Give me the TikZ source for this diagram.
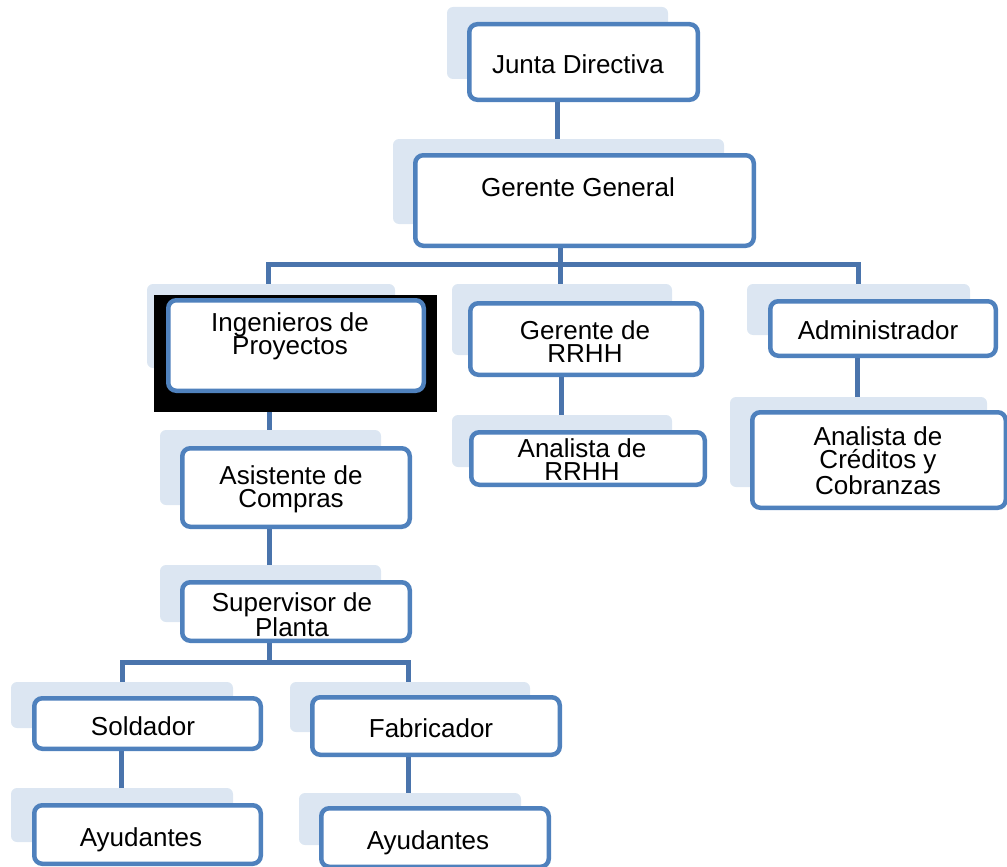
\documentclass[tikz,border=0pt]{standalone}
\usepackage{fontspec}
\setmainfont{Liberation Sans}
\usetikzlibrary{fit}
\pgfdeclarelayer{connlayer}
\pgfdeclarelayer{backlayer}
\pgfdeclarelayer{blklayer}
\pgfsetlayers{connlayer,backlayer,blklayer,main}
\definecolor{bordblue}{HTML}{4F81BD}
\definecolor{connblue}{HTML}{4A74AC}
\definecolor{backblue}{HTML}{DCE6F2}
\tikzset{
  frontbox/.style={draw=bordblue, line width=4.5pt, fill=white, rounded corners=8pt, inner sep=0pt},
  backbox/.style={fill=backblue, draw=none, rounded corners=6pt, inner sep=0pt},
  conn/.style={draw=connblue, line width=5pt},
  lbl/.style={font=\fontsize{26}{23.5}\selectfont, align=center, inner sep=0pt, anchor=base, text=black},
}
\newcommand\orgbox[9]{%
  \begin{pgfonlayer}{backlayer}\node[backbox, fit={(#6,#7) (#8,#9)}] (#1-b) {};\end{pgfonlayer}
  \node[frontbox, fit={(#2+2.25,#3+2.25) (#4-2.25,#5-2.25)}] (#1) {};}
\begin{document}
\begin{tikzpicture}[x=1pt,y=-1pt]
\useasboundingbox (0,0) rectangle (1007,867);
% boxes: name, front x1 y1 x2 y2, back x1 y1 x2 y2
\orgbox{jd}{467}{22}{700}{102}{447}{7}{668}{79}
\orgbox{gg}{413}{153}{756}{248}{393}{139}{724}{224}
\orgbox{ip}{166}{298}{426}{393}{147}{284}{395}{368}
\orgbox{rh}{468}{301}{704}{377}{452}{284}{672}{355}
\orgbox{ar}{469}{430}{707}{487}{452}{415}{672}{467}
\orgbox{ad}{768}{299}{998}{358}{747}{284}{970}{335}
\orgbox{ac}{750}{410}{1008}{510}{730}{397}{987}{487}
\orgbox{as}{180}{446}{412}{529}{160}{430}{381}{505}
\orgbox{sp}{180}{580}{412}{643}{160}{565}{381}{622}
\orgbox{so}{32}{696}{263}{751}{11}{682}{233}{728}
\orgbox{aa}{32}{803}{263}{866}{11}{788}{233}{842}
\orgbox{fa}{310}{695}{562}{757}{290}{682}{530}{732}
\orgbox{ab}{319}{806}{551}{869}{299}{793}{521}{845}
\begin{pgfonlayer}{blklayer}
  \node[fill=black, inner sep=0pt, fit={(154,295) (437,412)}] (blk) {};
\end{pgfonlayer}
% labels (base = baseline of the last line)
\node[lbl] (jd-t) at (578,74) {Junta Directiva};
\node[lbl] (gg-t) at (578,196) {Gerente General};
\node[lbl] (ip-t) at (290,354.5) {Ingenieros de\\Proyectos};
\node[lbl] (rh-t) at (585,362.5) {Gerente de\\RRHH};
\node[lbl] (ar-t) at (582,480.5) {Analista de\\RRHH};
\node[lbl] (ad-t) at (878,339) {Administrador};
\node[lbl] (ac-t) at (878,494) {Analista de\\Créditos y\\Cobranzas};
\node[lbl] (as-t) at (291,507.5) {Asistente de\\Compras};
\node[lbl] (sp-t) at (292,636.5) {Supervisor de\\Planta};
\node[lbl] (so-t) at (143,735) {Soldador};
\node[lbl] (aa-t) at (141,846) {Ayudantes};
\node[lbl] (fa-t) at (431,737) {Fabricador};
\node[lbl] (ab-t) at (428,849) {Ayudantes};
% connectors
\begin{pgfonlayer}{connlayer}
  \coordinate (bus1) at (560,264);
  \coordinate (bus2) at (269,662);
  \draw[conn] (557,0 |- jd.south) -- (557,0 |- gg.north);
  \draw[conn] (bus1 |- gg.south) -- (bus1);
  \draw[conn] (268,0 |- ip.north) |- (bus1) -| (858,0 |- ad.north);
  \draw[conn] (bus1) -- (bus1 |- rh.north);
  \draw[conn] (561,0 |- rh.south) -- (561,0 |- ar.north);
  \draw[conn] (857,0 |- ad.south) -- (857,0 |- ac.north);
  \draw[conn] (269,0 |- ip.south) -- (269,0 |- as.north);
  \draw[conn] (269,0 |- as.south) -- (269,0 |- sp.north);
  \draw[conn] (bus2 |- sp.south) -- (bus2);
  \draw[conn] (122,0 |- so.north) |- (bus2) -| (408,0 |- fa.north);
  \draw[conn] (121,0 |- so.south) -- (121,0 |- aa.north);
  \draw[conn] (408,0 |- fa.south) -- (408,0 |- ab.north);
\end{pgfonlayer}
\end{tikzpicture}
\end{document}
